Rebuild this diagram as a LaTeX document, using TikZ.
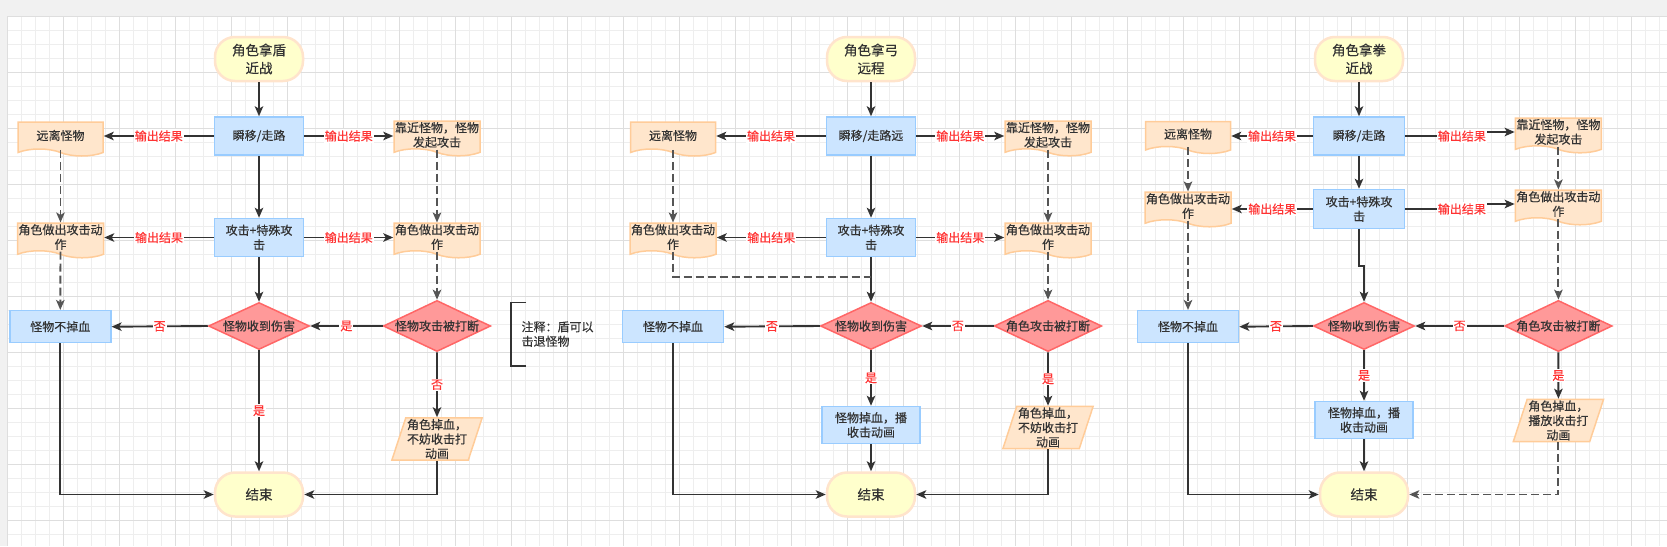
\documentclass[tikz,border=0pt]{standalone}
\usepackage{fontspec}
\newfontfamily\cjk[FakeBold=0.4]{Noto Sans CJK SC}
\usetikzlibrary{arrows.meta,shapes.geometric,shapes.symbols,positioning}
\definecolor{ink}{HTML}{333333}
\definecolor{dashgray}{HTML}{555555}
\definecolor{lblred}{HTML}{FF3333}
\definecolor{termfill}{HTML}{FFFFCC}
\definecolor{termline}{HTML}{FFE4CC}
\definecolor{procfill}{HTML}{CCE5FF}
\definecolor{procline}{HTML}{99CCFF}
\definecolor{docfill}{HTML}{FFE6CC}
\definecolor{docline}{HTML}{FFCC99}
\definecolor{decfill}{HTML}{FF9999}
\definecolor{decline}{HTML}{FF6666}
\definecolor{bggray}{HTML}{F1F1F1}
\definecolor{minorgrid}{HTML}{EEEEEE}
\definecolor{majorgrid}{HTML}{DEDEDE}
\begin{document}
\begin{tikzpicture}
      [x=1pt, y=-1pt, >={Stealth[length=10pt,width=8.5pt,inset=2.5pt]},
      font=\cjk\fontsize{12}{14.5}\selectfont, text=ink,
      startstop/.style={rectangle, rounded corners=20pt, draw=termline, fill=termfill,
        line width=2.5pt, minimum width=88pt, minimum height=44pt, align=center,
        font=\cjk\fontsize{13.5}{18}\selectfont},
      process/.style={rectangle, draw=procline, fill=procfill, line width=1.5pt,
        minimum width=89pt, minimum height=38pt, align=center, inner sep=1pt},
      docbox/.style={tape, tape bend top=none, tape bend bottom=out and in,
        tape bend height=7pt, draw=docline, fill=docfill, line width=1.5pt,
        minimum width=85pt, minimum height=34pt, align=center, inner sep=1pt},
      decision/.style={diamond, aspect=2.1, draw=decline, fill=decfill, line width=1.5pt,
        minimum width=101pt, minimum height=47pt, inner sep=0pt},
      datapara/.style={trapezium, trapezium left angle=72, trapezium right angle=108,
        trapezium stretches=true, draw=docline, fill=docfill, line width=1.5pt,
        minimum width=91pt, minimum height=42pt, align=center, inner sep=1pt},
      conn/.style={->, draw=ink, line width=1.9pt},
      dconn/.style={->, draw=dashgray, line width=1.9pt, dash pattern=on 8pt off 4pt},
      lbl/.style={fill=white, text=lblred, inner sep=1pt}]

      \useasboundingbox (0,0) rectangle (1667,546);
      \fill[bggray] (0,0) rectangle (1667,546);
      \fill[white] (7.3,16) rectangle (1667,546);
      \foreach \gx in {0,...,118}
        \draw[minorgrid, line width=1pt] ({7.3+14*\gx},16) -- ({7.3+14*\gx},546);
      \foreach \gy in {0,...,37}
        \draw[minorgrid, line width=1pt] (7.3,{16+14*\gy}) -- (1667,{16+14*\gy});
      \foreach \gx in {0,...,29}
        \draw[majorgrid, line width=1pt] ({7.3+56*\gx},16) -- ({7.3+56*\gx},546);
      \foreach \gy in {0,...,9}
        \draw[majorgrid, line width=1pt] (7.3,{16+56*\gy}) -- (1667,{16+56*\gy});

      % shield, melee
      \node [startstop] (s1) at (259,59) {角色拿盾\\近战};
      \node [process] (w1) at (259,136) {瞬移/走路};
      \node [docbox] (far1) at (60.5,135.5) {远离怪物};
      \node [docbox] (near1) at (437,135) {靠近怪物，怪物\\发起攻击};
      \node [process] (act1) at (259,237.5) {攻击+特殊攻\\击};
      \node [docbox] (doL1) at (60.5,237) {角色做出攻击动\\作};
      \node [docbox] (doR1) at (437,237) {角色做出攻击动\\作};
      \node [process, minimum width=101pt, minimum height=32pt] (keep1) at (60.3,326.7) {怪物不掉血};
      \node [decision] (hit1) at (259,326) {怪物收到伤害};
      \node [decision] (brk1) at (437,326) {怪物攻击被打断};
      \node [datapara] (hurt1) at (437,439) {角色掉血，\\不妨收击打\\动画};
      \node [startstop] (end1) at (259,494.5) {结束};
      \node [anchor=west, align=left] (note1) at (518,334) {注释：盾可以\\击退怪物};
      \draw [ink, line width=1.5pt] (526,302.7) -- (511,302.7) -- (511,366) -- (526,366);

      \draw [conn] (s1) -- (w1);
      \draw [conn] (w1) -- (act1);
      \draw [conn] (act1) -- (hit1);
      \draw [conn] (w1) -- node [lbl] {输出结果} (far1.east |- w1);
      \draw [conn] (w1) -- node [lbl] {输出结果} (near1.west |- w1);
      \draw [conn] (act1) -- node [lbl] {输出结果} (doL1.east |- act1);
      \draw [conn] (act1) -- node [lbl] {输出结果} (doR1.west |- act1);
      \draw [dconn] (far1.south) -- (doL1.north);
      \draw [dconn] (doL1.south) -- (keep1.north);
      \draw [dconn] (near1.south) -- (doR1.north);
      \draw [dconn] (doR1.south) -- (brk1.north);
      \draw [conn] (hit1.west) -- node [lbl] {否} (keep1.east);
      \draw [conn] (brk1.west) -- node [lbl] {是} (hit1.east);
      \draw [conn] (hit1.south) -- node [lbl] {是} (end1.north);
      \draw [conn] (brk1.south) -- node [lbl] {否} (hurt1.north);
      \draw [conn] (keep1.south) |- (end1.west);
      \draw [conn] (hurt1.south) |- (end1.east);

      % bow, ranged
      \node [startstop] (s2) at (871,59) {角色拿弓\\远程};
      \node [process] (w2) at (871,136) {瞬移/走路远};
      \node [docbox] (far2) at (673,135.5) {远离怪物};
      \node [docbox] (near2) at (1048,135) {靠近怪物，怪物\\发起攻击};
      \node [process] (act2) at (871,237.5) {攻击+特殊攻\\击};
      \node [docbox] (doL2) at (673,237) {角色做出攻击动\\作};
      \node [docbox] (doR2) at (1048,237) {角色做出攻击动\\作};
      \node [process, minimum width=101pt, minimum height=32pt] (keep2) at (673,326.7) {怪物不掉血};
      \node [decision] (hit2) at (871,326) {怪物收到伤害};
      \node [decision] (brk2) at (1048,326) {角色攻击被打断};
      \node [process, minimum width=98pt, minimum height=37pt] (drop2) at (871,425) {怪物掉血，播\\收击动画};
      \node [datapara] (hurt2) at (1048,427.5) {角色掉血，\\不妨收击打\\动画};
      \node [startstop] (end2) at (871,494.5) {结束};
      \coordinate (join2) at (871,277);

      \draw [conn] (s2) -- (w2);
      \draw [conn] (w2) -- (act2);
      \draw [conn] (act2) -- (hit2);
      \draw [conn] (w2) -- node [lbl] {输出结果} (far2.east |- w2);
      \draw [conn] (w2) -- node [lbl] {输出结果} (near2.west |- w2);
      \draw [conn] (act2) -- node [lbl] {输出结果} (doL2.east |- act2);
      \draw [conn] (act2) -- node [lbl] {输出结果} (doR2.west |- act2);
      \draw [dconn] (far2.south) -- (doL2.north);
      \draw [dconn, -] (doL2.south) |- (join2);
      \draw [dconn] (near2.south) -- (doR2.north);
      \draw [dconn] (doR2.south) -- (brk2.north);
      \draw [conn] (hit2.west) -- node [lbl] {否} (keep2.east);
      \draw [conn] (brk2.west) -- node [lbl] {否} (hit2.east);
      \draw [conn] (hit2.south) -- node [lbl] {是} (drop2.north);
      \draw [conn] (brk2.south) -- node [lbl] {是} (hurt2.north);
      \draw [conn] (drop2) -- (end2);
      \draw [conn] (keep2.south) |- (end2.west);
      \draw [conn] (hurt2.south) |- (end2.east);

      % fist, melee
      \node [startstop] (s3) at (1359,59) {角色拿拳\\近战};
      \node [process, minimum width=91pt] (w3) at (1359,136) {瞬移/走路};
      \node [docbox, minimum height=32pt] (far3) at (1188,134) {远离怪物};
      \node [docbox, minimum height=32pt] (near3) at (1558.4,132) {靠近怪物，怪物\\发起攻击};
      \node [process, minimum width=91pt, minimum height=39pt] (act3) at (1359,209) {攻击+特殊攻\\击};
      \node [docbox, minimum height=32pt] (doL3) at (1188,206) {角色做出攻击动\\作};
      \node [docbox, minimum height=32pt] (doR3) at (1558.4,204) {角色做出攻击动\\作};
      \node [process, minimum width=101pt, minimum height=32pt] (keep3) at (1188,326.7) {怪物不掉血};
      \node [decision] (hit3) at (1364,326) {怪物收到伤害};
      \node [decision] (brk3) at (1558.4,326) {角色攻击被打断};
      \node [process, minimum width=98pt, minimum height=37pt] (drop3) at (1364,420) {怪物掉血，播\\收击动画};
      \node [datapara] (hurt3) at (1558.4,420.5) {角色掉血，\\播放收击打\\动画};
      \node [startstop] (end3) at (1364,494.5) {结束};

      \draw [conn] (s3) -- (w3);
      \draw [conn] (w3) -- (act3);
      \draw [conn] (act3.south) -- ++(0,37) -| (hit3.north);
      \draw [conn] (w3) -- node [lbl] {输出结果} (far3.east |- w3);
      \draw [conn] (w3.east) -- node [lbl, pos=1] {输出结果} ++(56.6,0) |- (near3.west);
      \draw [conn] (act3) -- node [lbl] {输出结果} (doL3.east |- act3);
      \draw [conn] (act3.east) -- node [lbl, pos=1] {输出结果} ++(56.6,0) |- (doR3.west);
      \draw [dconn] (far3.south) -- (doL3.north);
      \draw [dconn] (doL3.south) -- (keep3.north);
      \draw [dconn] (near3.south) -- (doR3.north);
      \draw [dconn] (doR3.south) -- (brk3.north);
      \draw [conn] (hit3.west) -- node [lbl] {否} (keep3.east);
      \draw [conn] (brk3.west) -- node [lbl] {否} (hit3.east);
      \draw [conn] (hit3.south) -- node [lbl] {是} (drop3.north);
      \draw [conn] (brk3.south) -- node [lbl] {是} (hurt3.north);
      \draw [conn] (drop3) -- (end3);
      \draw [conn] (keep3.south) |- (end3.west);
      \draw [dconn] (hurt3.south) |- (end3.east);
    \end{tikzpicture}
\end{document}
